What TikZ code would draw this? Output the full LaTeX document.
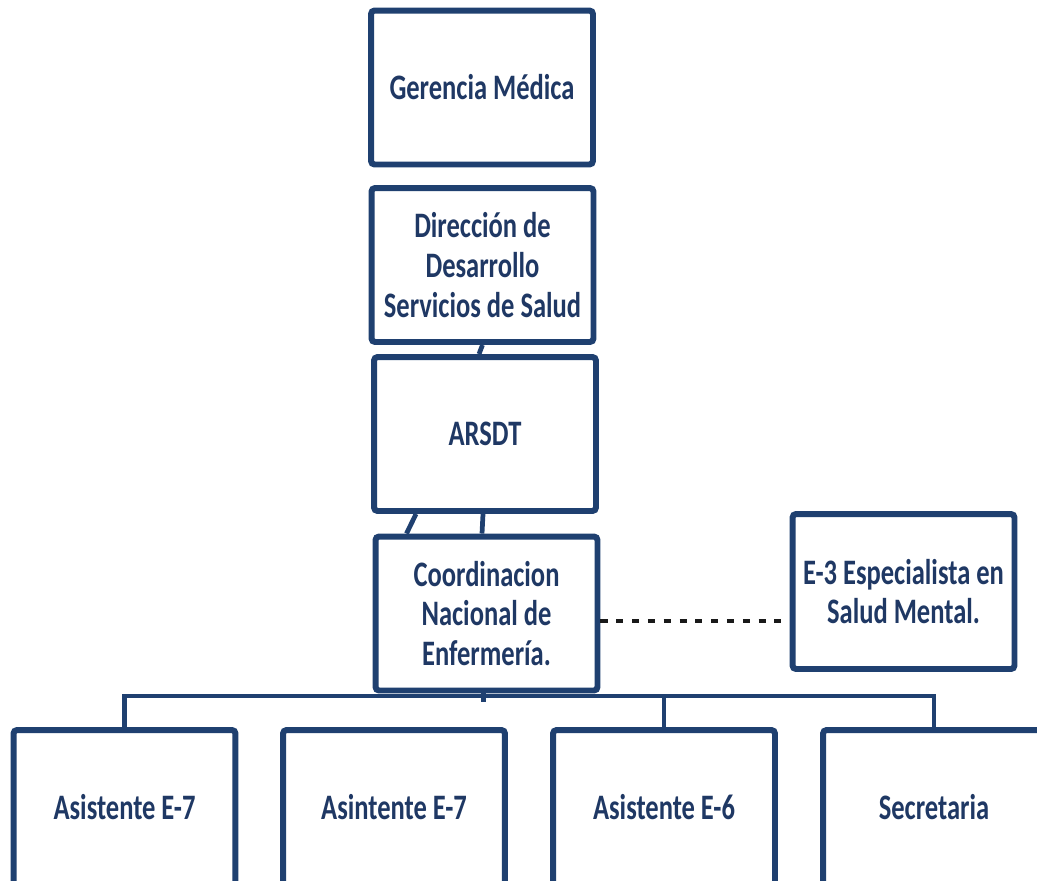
\documentclass[tikz,border=0pt]{standalone}
\usepackage{fontspec}
\usepackage{tikz}
\usepackage{xcolor}
\usetikzlibrary{positioning,calc}
\newfontfamily\orgfont{Carlito}[FakeStretch=0.74]
\definecolor{boxblue}{RGB}{31,64,112}
\definecolor{textblue}{RGB}{31,56,100}

\begin{document}
\begin{tikzpicture}[
    x=0.02cm, y=-0.02cm,
    orgbox/.style={rectangle, draw=boxblue, line width=3.4pt, fill=white, minimum width=4.44cm, minimum height=3.08cm, align=center, text=textblue, inner sep=1pt, rounded corners=2pt, font=\orgfont\bfseries\fontsize{20.4pt}{22.7pt}\selectfont},
    link/.style={draw=boxblue, line width=2.7pt},
    dashline/.style={draw=black!90, line width=1.8pt, dash pattern=on 4pt off 5pt}
]
\useasboundingbox (0,0) rectangle (1037,880);
\clip (0,0) rectangle (1037,880);

% Upper chain
\node[orgbox] (gerencia) at (482,87.5) {Gerencia M\'edica};
\node[orgbox] (direccion) at (482.5,265) {Direcci\'on de\\Desarrollo\\Servicios de Salud};
\node[orgbox] (arsdt) at (485,434) {ARSDT};
\node[orgbox] (coord) at (486.5,613.5) {Coordinacion\\Nacional de\\Enfermer\'ia.};

% Staff position
\node[orgbox, minimum height=3.1cm] (espec) at (903.5,591.5) {E-3 Especialista en\\[-1pt]Salud Mental.};

% Bottom row
\node[orgbox, minimum height=3.1cm] (asis1) at (124.5,807.5) {Asistente E-7};
\node[orgbox, minimum height=3.1cm] (asis2) at (394,807.5) {Asintente E-7};
\node[orgbox, minimum height=3.1cm] (asis6) at (664,807.5) {Asistente E-6};
\node[orgbox, minimum height=3.1cm] (secre) at (934,807.5) {Secretaria};

% Links
\draw[link] (direccion.south) -- ($(arsdt.north)+(-6,0)$);
\draw[link] ($(arsdt.south)+(-2,0)$) -- ($(coord.north)+(-4.5,0)$);
\draw[link] ($(arsdt.south)+(-69,0)$) -- ($(coord.north)+(-80,0)$);

\coordinate (dashstart) at ($(coord.east)+(0,7.5)$);
\draw[dashline] (dashstart) -- (dashstart -| espec.west);

\draw[link] ($(coord.south)+(-3,0)$) -- ++(0,9);
\draw[link] (asis1.north) -- ++(0,-31) -| (secre.north);
\draw[link] (asis6.north) -- ++(0,-31);

\end{tikzpicture}
\end{document}
